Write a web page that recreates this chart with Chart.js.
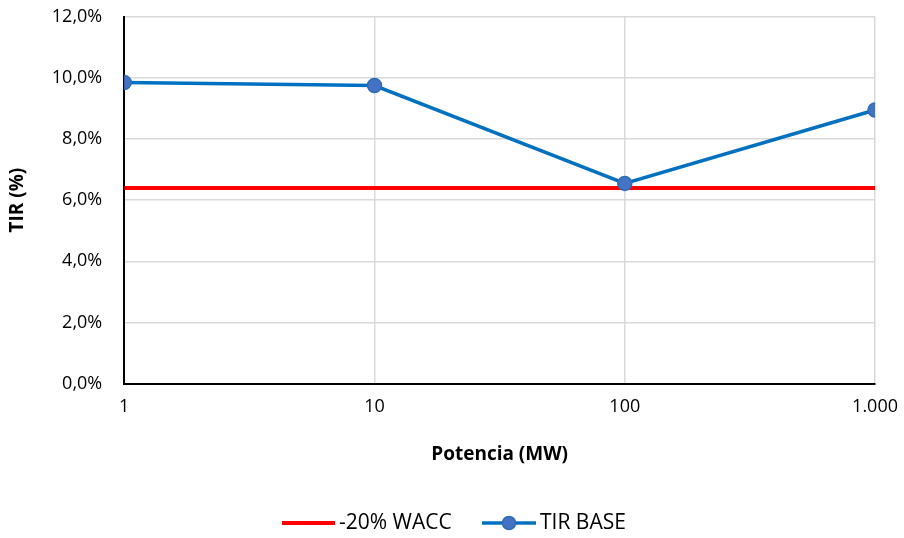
<!DOCTYPE html>
<html lang="es">
<head>
<meta charset="UTF-8">
<title>TIR vs Potencia</title>
<script src="https://cdn.jsdelivr.net/npm/chart.js"></script>
<style>
  body { margin: 0; background: #fff; overflow: hidden; }
  canvas { display: block; margin-top: -16px; }
</style>
</head>
<body>
<canvas id="grafico" width="910" height="554"></canvas>
<script>
// datos
const potencia = [1, 10, 100, 1000];
const tirBase = [9.85, 9.75, 6.55, 8.95];
const wacc20 = [6.4, 6.4, 6.4, 6.4];
const ticksX = [1, 10, 100, 1000];

const fuente = "'Open Sans', 'Liberation Sans', sans-serif";

// leyenda dibujada a mano (linea + marcador como en Excel)
const leyenda = {
  id: 'leyenda',
  afterDraw(chart) {
    const ctx = chart.ctx;
    const y = 539;
    ctx.save();
    ctx.font = '21px ' + fuente;
    ctx.textBaseline = 'middle';
    ctx.fillStyle = '#000';
    // -20% WACC
    ctx.strokeStyle = '#FF0000';
    ctx.lineWidth = 4;
    ctx.beginPath(); ctx.moveTo(282, y); ctx.lineTo(335, y); ctx.stroke();
    ctx.fillText(chart.data.datasets[0].label, 339, y);
    // TIR BASE
    ctx.strokeStyle = '#0070C0';
    ctx.lineWidth = 3.5;
    ctx.beginPath(); ctx.moveTo(482, y); ctx.lineTo(536, y); ctx.stroke();
    ctx.beginPath(); ctx.arc(509, y, 6.5, 0, Math.PI * 2);
    ctx.fillStyle = '#4472C4'; ctx.fill();
    ctx.lineWidth = 1.5; ctx.strokeStyle = '#2E6DB4'; ctx.stroke();
    ctx.fillStyle = '#000';
    ctx.fillText(chart.data.datasets[1].label, 540, y);
    ctx.restore();
  }
};

new Chart(document.getElementById('grafico'), {
  type: 'line',
  data: {
    datasets: [
      {
        label: '-20% WACC',
        data: potencia.map((p, i) => ({ x: p, y: wacc20[i] })),
        borderColor: '#FF0000',
        borderWidth: 4,
        pointRadius: 0,
        order: 2
      },
      {
        label: 'TIR BASE',
        data: potencia.map((p, i) => ({ x: p, y: tirBase[i] })),
        borderColor: '#0070C0',
        borderWidth: 3.5,
        pointRadius: 7,
        pointBackgroundColor: '#4472C4',
        pointBorderColor: '#2E6DB4',
        pointBorderWidth: 1.5,
        order: 1
      }
    ]
  },
  options: {
    responsive: false,
    animation: false,
    layout: { padding: { left: 0, right: 0, top: 0, bottom: 68 } },
    plugins: {
      legend: { display: false },
      tooltip: { enabled: false }
    },
    scales: {
      x: {
        type: 'logarithmic',
        min: 1,
        max: 1000,
        afterBuildTicks: axis => { axis.ticks = ticksX.map(v => ({ value: v })); },
        ticks: {
          color: '#000',
          font: { family: fuente, size: 18 },
          padding: 12,
          maxRotation: 0,
          callback: v => v.toLocaleString('es-ES').replace(/\s/g, '.').replace('1000', '1.000')
        },
        grid: { color: '#D9D9D9', lineWidth: 1.5, drawTicks: false },
        border: { color: '#000', width: 2 },
        title: {
          display: true,
          text: 'Potencia (MW)',
          color: '#000',
          font: { family: fuente, size: 19, weight: 'bold' },
          padding: { top: 14 }
        }
      },
      y: {
        min: 0,
        max: 12,
        ticks: {
          stepSize: 2,
          color: '#000',
          font: { family: fuente, size: 18 },
          padding: 22,
          callback: v => v.toFixed(1).replace('.', ',') + '%'
        },
        grid: { color: '#D9D9D9', lineWidth: 1.5, drawTicks: false },
        border: { color: '#000', width: 2 },
        title: {
          display: true,
          text: 'TIR (%)',
          color: '#000',
          font: { family: fuente, size: 19, weight: 'bold' },
          padding: { top: 6, bottom: 1 }
        }
      }
    }
  },
  plugins: [leyenda]
});
</script>
</body>
</html>
